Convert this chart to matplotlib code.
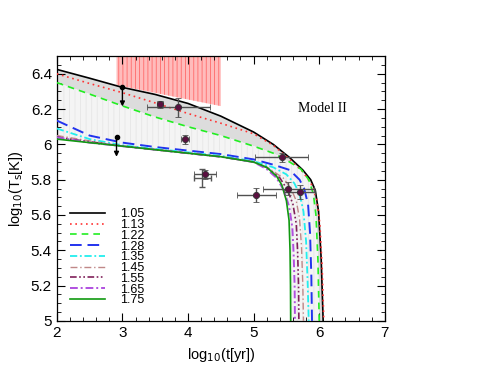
import matplotlib
matplotlib.use("Agg")
import matplotlib.pyplot as plt
import numpy as np
from matplotlib.ticker import MultipleLocator, FormatStrFormatter

plt.rcParams['font.family'] = ['Liberation Sans', 'DejaVu Sans']
plt.rcParams['hatch.linewidth'] = 0.6

labels = ["1.05", "1.13", "1.22", "1.28", "1.35", "1.45", "1.55", "1.65", "1.75"]

curve_x = [
    [2.0, 2.5, 3.0, 3.5, 4.0, 4.5, 5.0, 5.3, 5.55, 5.75, 5.87, 5.94, 5.99, 6.03, 6.06],
    [2.0, 2.5, 3.0, 3.5, 4.0, 4.5, 5.0, 5.3, 5.55, 5.75, 5.88, 5.96, 6.01, 6.045, 6.07],
    [2.0, 2.5, 3.0, 3.5, 4.0, 4.5, 5.0, 5.3, 5.55, 5.72, 5.84, 5.91, 5.95, 5.98, 6.0],
    [2.0, 2.5, 3.0, 3.5, 4.0, 4.5, 5.0, 5.3, 5.55, 5.70, 5.77, 5.83, 5.86, 5.88, 5.89],
    [2.0, 2.5, 3.0, 3.5, 4.0, 4.5, 5.0, 5.3, 5.5, 5.62, 5.70, 5.76, 5.80, 5.825, 5.84],
    [2.0, 2.5, 3.0, 3.5, 4.0, 4.5, 5.0, 5.25, 5.45, 5.57, 5.65, 5.70, 5.73, 5.75, 5.76],
    [2.0, 2.5, 3.0, 3.5, 4.0, 4.5, 5.0, 5.2, 5.4, 5.52, 5.60, 5.65, 5.67, 5.685, 5.69],
    [2.0, 2.5, 3.0, 3.5, 4.0, 4.5, 5.0, 5.2, 5.35, 5.46, 5.54, 5.59, 5.61, 5.625, 5.63],
    [2.0, 2.5, 3.0, 3.5, 4.0, 4.5, 5.0, 5.2, 5.35, 5.43, 5.50, 5.54, 5.555, 5.562, 5.565],
]
curve_y = [
    [6.425, 6.375, 6.323, 6.283, 6.232, 6.16, 6.07, 6.00, 5.925, 5.855, 5.80, 5.74, 5.62, 5.35, 5.0],
    [6.40, 6.345, 6.293, 6.235, 6.175, 6.12, 6.06, 5.995, 5.915, 5.845, 5.775, 5.69, 5.55, 5.30, 5.0],
    [6.35, 6.285, 6.218, 6.155, 6.10, 6.05, 5.99, 5.95, 5.90, 5.86, 5.80, 5.72, 5.60, 5.35, 5.0],
    [6.135, 6.05, 6.01, 5.985, 5.965, 5.945, 5.915, 5.885, 5.855, 5.80, 5.75, 5.66, 5.50, 5.25, 5.0],
    [6.09, 6.03, 5.995, 5.975, 5.955, 5.935, 5.905, 5.87, 5.83, 5.78, 5.72, 5.62, 5.45, 5.2, 5.0],
    [6.05, 6.02, 5.99, 5.97, 5.95, 5.93, 5.90, 5.86, 5.81, 5.75, 5.68, 5.58, 5.42, 5.2, 5.0],
    [6.04, 6.015, 5.99, 5.97, 5.95, 5.93, 5.90, 5.87, 5.81, 5.74, 5.66, 5.55, 5.40, 5.2, 5.0],
    [6.04, 6.01, 5.99, 5.97, 5.95, 5.93, 5.90, 5.86, 5.81, 5.74, 5.65, 5.53, 5.38, 5.2, 5.0],
    [6.03, 6.01, 5.99, 5.97, 5.95, 5.93, 5.90, 5.87, 5.82, 5.77, 5.68, 5.57, 5.40, 5.2, 5.0],
]

styles = [
    dict(color='black', ls='-', lw=1.2),
    dict(color='#ff3333', ls=(0, (1, 2.2)), lw=1.2),
    dict(color='#22ee22', ls=(0, (4, 3)), lw=1.2),
    dict(color='#2233ee', ls=(0, (6, 3)), lw=1.4),
    dict(color='#22eeee', ls=(0, (4, 1.5, 1, 1.5)), lw=1.3),
    dict(color='#c08888', ls=(0, (5, 2, 1, 2)), lw=1.0),
    dict(color='#80205a', ls=(0, (4, 1.5, 1, 1.5, 1, 1.5)), lw=1.2),
    dict(color='#b050e0', ls=(0, (4, 1.5, 1, 1.5)), lw=1.4),
    dict(color='#119911', ls='-', lw=1.2),
]

# observational points
obs_x = [3.57, 3.85, 3.96, 4.26, 5.04, 5.425, 5.53, 5.70]
obs_y = [6.228, 6.21, 6.03, 5.83, 5.713, 5.927, 5.75, 5.729]
obs_xerr = [0.05, 0.48, 0.06, 0.17, 0.30, 0.40, 0.39, 0.24]
obs_yerr = [0.02, 0.055, 0.025, 0.025, 0.038, 0.025, 0.035, 0.04]

# extra error cross without marker
extra_x = [4.22]
extra_y = [5.81]
extra_xerr = [0.13]
extra_yerr = [0.05]

# upper limits
ul_x = [3.0, 2.91]
ul_y = [6.325, 6.04]
ul_len = [0.11, 0.11]

# constraint hatched region
reg_x = [2.91, 4.5]
reg_ylow = [6.336, 6.217]
reg_top = 6.5

fig = plt.figure(figsize=(4.94, 3.82), dpi=100)
ax = fig.add_axes([0.115, 0.160, 0.664, 0.693])

# shaded band between curves
bx = np.concatenate([curve_x[0], curve_x[2][::-1]])
by = np.concatenate([curve_y[0], curve_y[2][::-1]])
ax.fill(bx, by, color='#dcdcdc', lw=0, zorder=1)
bx2 = np.concatenate([curve_x[2], curve_x[8][::-1]])
by2 = np.concatenate([curve_y[2], curve_y[8][::-1]])
ax.fill(bx2, by2, color='#f4f4f4', lw=0, zorder=1)
ax.fill(bx2, by2, facecolor='none', edgecolor='#e6e6e6', hatch='|||', lw=0, zorder=1)

# red region
rx = np.array(reg_x)
ax.fill_between(rx, reg_ylow, reg_top, facecolor='#ffbcbc', edgecolor='#ff6a6a',
                hatch='||||', lw=0, zorder=1)

for xs, ys, lab, st in zip(curve_x, curve_y, labels, styles):
    ax.plot(xs, ys, label=lab, zorder=3, **st)

ax.errorbar(extra_x, extra_y, xerr=extra_xerr, yerr=extra_yerr, fmt='none',
            ecolor='#555555', elinewidth=1.0, capsize=2, zorder=4)
ax.errorbar(obs_x, obs_y, xerr=obs_xerr, yerr=obs_yerr, fmt='o', ms=4.5,
            mfc='#5a1040', mec='#333333', mew=0.6, ecolor='#505050',
            elinewidth=1.0, capsize=2, zorder=5)

for x, y, l in zip(ul_x, ul_y, ul_len):
    ax.plot([x], [y], 'o', color='black', ms=3, zorder=6)
    ax.annotate('', xy=(x, y - l), xytext=(x, y),
                arrowprops=dict(arrowstyle='-|>', color='black', lw=1.0,
                                mutation_scale=7, shrinkA=0, shrinkB=0), zorder=6)

ax.text(5.67, 6.205, 'Model II', family='Liberation Serif', fontsize=10,
        va='center', ha='left')

ax.set_xlim(2, 7)
ax.set_ylim(5, 6.5)
ax.xaxis.set_major_locator(MultipleLocator(1))
ax.xaxis.set_minor_locator(MultipleLocator(0.2))
ax.yaxis.set_major_locator(MultipleLocator(0.2))
ax.yaxis.set_minor_locator(MultipleLocator(0.05))
ax.xaxis.set_major_formatter(FormatStrFormatter('%g'))
ax.yaxis.set_major_formatter(FormatStrFormatter('%g'))
ax.tick_params(which='both', direction='in', top=True, right=True, labelsize=11)
ax.tick_params(which='major', length=6, width=0.8)
ax.tick_params(which='minor', length=3, width=0.6)
ax.tick_params(axis='x', pad=4)
for s in ax.spines.values():
    s.set_linewidth(0.9)

ax.set_xlabel(r'log$_{10}$(t[yr])', fontsize=10.5)
ax.set_ylabel(r'log$_{10}$(T$_{\rm s}$[K])', fontsize=10.5)

ax.legend(loc='upper left', bbox_to_anchor=(0.04, 0.425), frameon=False,
          fontsize=9, handlelength=2.8, labelspacing=-0.1, borderaxespad=0,
          borderpad=0, handletextpad=1.2)

fig.savefig('out.png', dpi=100)
